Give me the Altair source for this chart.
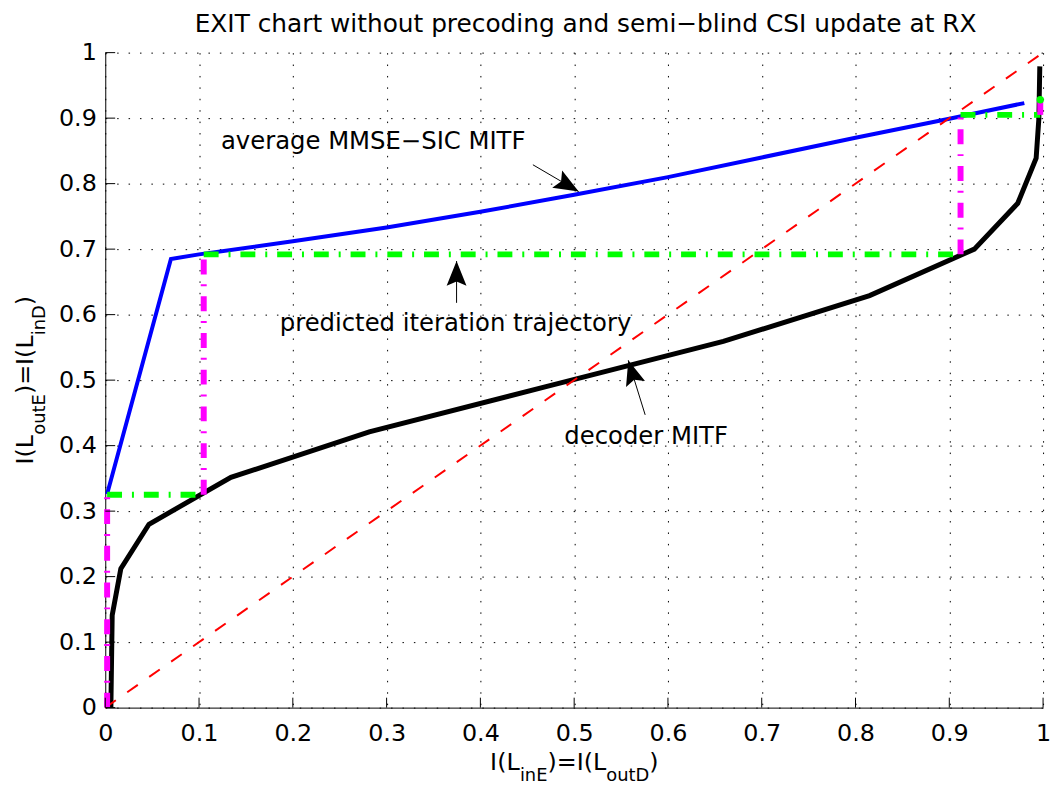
import altair as alt
import pandas as pd

# ---------------- data ----------------
ticks = [0, 0.1, 0.2, 0.3, 0.4, 0.5, 0.6, 0.7, 0.8, 0.9, 1]

blue_x = [0.002, 0.07, 0.1, 0.2, 0.3, 0.4, 0.5, 0.6, 0.7, 0.8, 0.9, 0.98]
blue_y = [0.326, 0.685, 0.692, 0.712, 0.733, 0.757, 0.783, 0.810, 0.840, 0.870, 0.899, 0.923]

black_x = [0.006, 0.0074, 0.0166, 0.0466, 0.134, 0.2815, 0.47, 0.659, 0.815, 0.9267, 0.973, 0.9926, 0.9955, 0.9965]
black_y = [0.0, 0.141, 0.212, 0.280, 0.3515, 0.421, 0.49, 0.559, 0.629, 0.700, 0.770, 0.839, 0.899, 0.979]

diag_x = [0, 1]
diag_y = [0, 1]

# trajectory: horizontal (green) and vertical (magenta) steps
green_x1 = [0.002, 0.105, 0.912]
green_x2 = [0.105, 0.912, 0.997]
green_y = [0.325, 0.692, 0.905]

mag_x = [0.002, 0.105, 0.912, 0.997]
mag_y1 = [0.0, 0.325, 0.692, 0.905]
mag_y2 = [0.325, 0.692, 0.905, 0.928]

dot_x = [0.997]
dot_y = [0.928]

ann_text = ["average MMSE\u2212SIC MITF", "predicted iteration trajectory", "decoder MITF"]
ann_x = [0.2857, 0.3735, 0.5767]
ann_y = [0.8636, 0.586, 0.4136]

arr_tail_x = [0.456, 0.3746, 0.5757]
arr_tail_y = [0.8288, 0.618, 0.447]
arr_tip_x = [0.5048, 0.3746, 0.5577]
arr_tip_y = [0.7879, 0.6818, 0.5303]
arr_angle = [120, 0, 343]

title_text = "EXIT chart without precoding and semi\u2212blind CSI update at RX"
xtitle_parts = ["I(L", "inE", ")=I(L", "outD", ")"]
ytitle_parts = ["I(L", "outE", ")=I(L", "inD", ")"]
is_sub = [False, True, False, True, False]

# ---------------- layout ----------------
W, H = 945, 660
FONT = "DejaVu Sans"

scale = alt.Scale(domain=[0, 1], nice=False, zero=False)
grid_dash = [1.5, 10]


def X(field):
    return alt.X(field, type="quantitative", scale=scale,
                 axis=alt.Axis(values=ticks, format="~g", title=None, grid=True,
                               gridColor="black", gridDash=grid_dash, gridOpacity=1, gridWidth=1,
                               ticks=False, tickSize=0, domainColor="black", domainWidth=1,
                               labelFont=FONT, labelFontSize=24, labelColor="black",
                               labelPadding=14, labelFlush=False))


def Y(field):
    return alt.Y(field, type="quantitative", scale=scale,
                 axis=alt.Axis(values=ticks, format="~g", title=None, grid=True,
                               gridColor="black", gridDash=grid_dash, gridOpacity=1, gridWidth=1,
                               ticks=False, tickSize=0, domainColor="black", domainWidth=1,
                               labelFont=FONT, labelFontSize=24, labelColor="black",
                               labelPadding=9, labelFlush=False))


blue_df = pd.DataFrame({"x": blue_x, "y": blue_y})
black_df = pd.DataFrame({"x": black_x, "y": black_y})
diag_df = pd.DataFrame({"x": diag_x, "y": diag_y})
green_df = pd.DataFrame({"x1": green_x1, "x2": green_x2, "y": green_y})
mag_df = pd.DataFrame({"x": mag_x, "y1": mag_y1, "y2": mag_y2})
dot_df = pd.DataFrame({"x": dot_x, "y": dot_y})
ann_df = pd.DataFrame({"t": ann_text, "x": ann_x, "y": ann_y})
arr_df = pd.DataFrame({"x1": arr_tail_x, "y1": arr_tail_y, "x2": arr_tip_x, "y2": arr_tip_y, "ang": arr_angle})
tick_df = pd.DataFrame({"v": ticks})
one_df = pd.DataFrame({"k": [0]})

blue = alt.Chart(blue_df).mark_line(color="#0000ff", strokeWidth=4).encode(x=X("x"), y=Y("y"), order="x:Q")
black = alt.Chart(black_df).mark_line(color="black", strokeWidth=5, strokeJoin="miter").encode(
    x=X("x"), y=Y("y"), order=alt.Order("y:Q"))
diag = alt.Chart(diag_df).mark_line(color="#ff0000", strokeWidth=2, strokeDash=[13, 14]).encode(x=X("x"), y=Y("y"))

green = alt.Chart(green_df).mark_rule(color="#00ff00", strokeWidth=6, strokeDash=[15, 10, 2, 10]).encode(
    x=X("x1"), x2="x2", y=Y("y"))
mag = alt.Chart(mag_df).mark_rule(color="#ff00ff", strokeWidth=6, strokeDash=[15, 10, 2, 10]).encode(
    x=X("x"), y=Y("y1"), y2="y2")
dot = alt.Chart(dot_df).mark_point(color="#00ff00", filled=True, opacity=1, size=55, shape="circle").encode(
    x=X("x"), y=Y("y"))

xt = alt.Chart(tick_df).mark_rule(color="black", strokeWidth=1).encode(
    x=X("v"), y=alt.value(H), y2=alt.value(H - 10))
yt = alt.Chart(tick_df).mark_rule(color="black", strokeWidth=1).encode(
    y=Y("v"), x=alt.value(0), x2=alt.value(10))

ann = alt.Chart(ann_df).mark_text(font=FONT, fontSize=24.5, color="black", align="center", baseline="middle").encode(
    x=X("x"), y=Y("y"), text="t:N")

shafts = alt.Chart(arr_df).mark_rule(color="black", strokeWidth=1).encode(
    x=X("x1"), y=Y("y1"), x2="x2", y2="y2")
head_path = "M0,0 L0.4,1 L0,0.82 L-0.4,1 Z"
heads = alt.Chart(arr_df).mark_point(shape=head_path, filled=True, color="black", opacity=1,
                                     size=2500, strokeWidth=0).encode(
    x=X("x2"), y=Y("y2"), angle=alt.Angle("ang:Q", scale=None))

layers = [blue, black, diag, green, mag, dot, xt, yt, ann, shafts, heads]

# title
layers.append(alt.Chart(one_df).mark_text(font=FONT, fontSize=25, color="black", align="center",
                                          baseline="alphabetic", text=title_text).encode(
    x=alt.value(484), y=alt.value(-21)))

# x-axis title with subscripts
x_off = [0, 30, 57.8, 117.1, 160.4]
x_start = 387.8
for part, sub, off in zip(xtitle_parts, is_sub, x_off):
    layers.append(alt.Chart(one_df).mark_text(font=FONT, fontSize=18 if sub else 24, color="black",
                                              align="left", baseline="alphabetic", text=part).encode(
        x=alt.value(x_start + off), y=alt.value(H + (74 if sub else 63))))

# y-axis title with subscripts (rotated)
y_off = [0, 30, 70.9, 130.2, 160.5]
y_start = 415
for part, sub, off in zip(ytitle_parts, is_sub, y_off):
    layers.append(alt.Chart(one_df).mark_text(font=FONT, fontSize=18 if sub else 24, color="black",
                                              align="left", baseline="alphabetic", angle=270, text=part).encode(
        x=alt.value(-61 if sub else -73), y=alt.value(y_start - off)))

chart = alt.layer(*layers).properties(
    width=W, height=H,
    autosize=alt.AutoSizeParams(type="none"),
    padding={"left": 98, "top": 42, "right": 10, "bottom": 76},
    background="white",
).configure_view(stroke=None)

chart.save("out.html", embed_options={"renderer": "svg", "actions": False})
